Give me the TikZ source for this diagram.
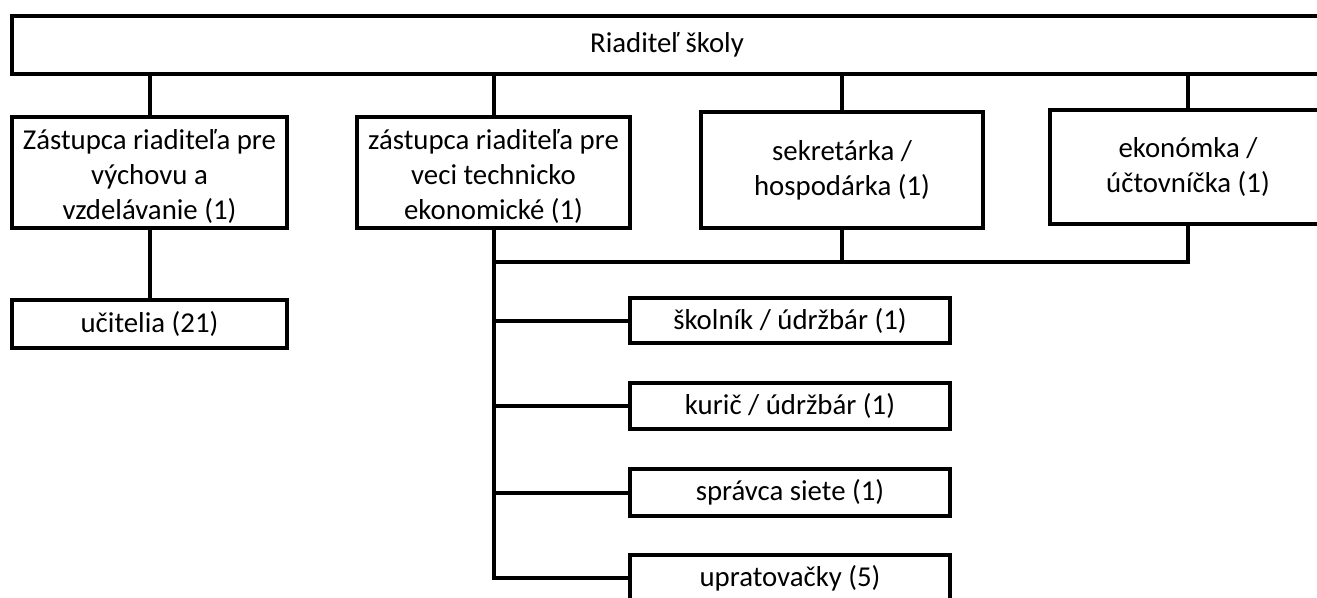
\documentclass[tikz,border=0pt]{standalone}
\usepackage{fontspec}
\setmainfont{Carlito}
\begin{document}
\begin{tikzpicture}[x=0.75pt,y=-0.75pt,
  line width=3pt,
  txt/.style={font=\fontsize{21.6}{26.25}\selectfont, align=center},
  box/.style={draw=black, line width=3pt, inner sep=0pt, txt},
  conn/.style={draw=black, line width=3pt}]
\useasboundingbox (0,0) rectangle (1317,597);
\clip (0,0) rectangle (1317,597);
\node[box, minimum width={1340*0.75pt}, minimum height={58*0.75pt},
  label={[txt, xshift={-15*0.75pt}]center:Riaditeľ školy}] (top) at (682,45) {};
\node[box, minimum width={275*0.75pt}, minimum height={111*0.75pt},
  label={[txt, yshift={-4*0.75pt}]center:Zástupca riaditeľa pre\\výchovu a\\vzdelávanie (1)}] (b1) at (149.5,172.5) {};
\node[box, minimum width={273*0.75pt}, minimum height={111*0.75pt},
  label={[txt, yshift={-4*0.75pt}]center:zástupca riaditeľa pre\\veci technicko\\ekonomické (1)}] (b2) at (493.5,172.5) {};
\node[box, minimum width={282*0.75pt}, minimum height={116*0.75pt}] (b3) at (842,170) {sekretárka /\\hospodárka (1)};
\node[box, minimum width={300*0.75pt}, minimum height={114*0.75pt},
  label={[txt, xshift={-12*0.75pt}]center:ekonómka /\\účtovníčka (1)}] (b4) at (1200,167) {};
\node[box, minimum width={275*0.75pt}, minimum height={48*0.75pt}] (uc) at (149.5,324) {učitelia (21)};
\node[box, minimum width={320*0.75pt}, minimum height={45*0.75pt}] (sk) at (790,320.5) {školník / údržbár (1)};
\node[box, minimum width={320*0.75pt}, minimum height={46*0.75pt}] (ku) at (790,406) {kurič / údržbár (1)};
\node[box, minimum width={320*0.75pt}, minimum height={47*0.75pt}] (sp) at (790,492.5) {správca siete (1)};
\node[box, minimum width={320*0.75pt}, minimum height={46*0.75pt}] (up) at (790,578) {upratovačky (5)};
\coordinate (j) at (493.5,262);
\coordinate (b4x) at (1188,224);
% from director to deputies
\draw[conn] (b1.north) -- (b1.north |- top.south);
\draw[conn] (b2.north) -- (b2.north |- top.south);
\draw[conn] (b3.north) -- (b3.north |- top.south);
\draw[conn] (b4x |- b4.north) -- (b4x |- top.south);
% teachers
\draw[conn] (b1.south) -- (uc.north);
% economic branch
\draw[conn, line cap=rect] (b2.south) -- (b2.south |- up.west) -- (up.west);
\draw[conn] (b3.south) -- (b3.south |- j);
\draw[conn, line join=miter] (b4x |- b4.south) |- (j);
\draw[conn] (b2.south |- sk.west) -- (sk.west);
\draw[conn] (b2.south |- ku.west) -- (ku.west);
\draw[conn] (b2.south |- sp.west) -- (sp.west);
\end{tikzpicture}
\end{document}
